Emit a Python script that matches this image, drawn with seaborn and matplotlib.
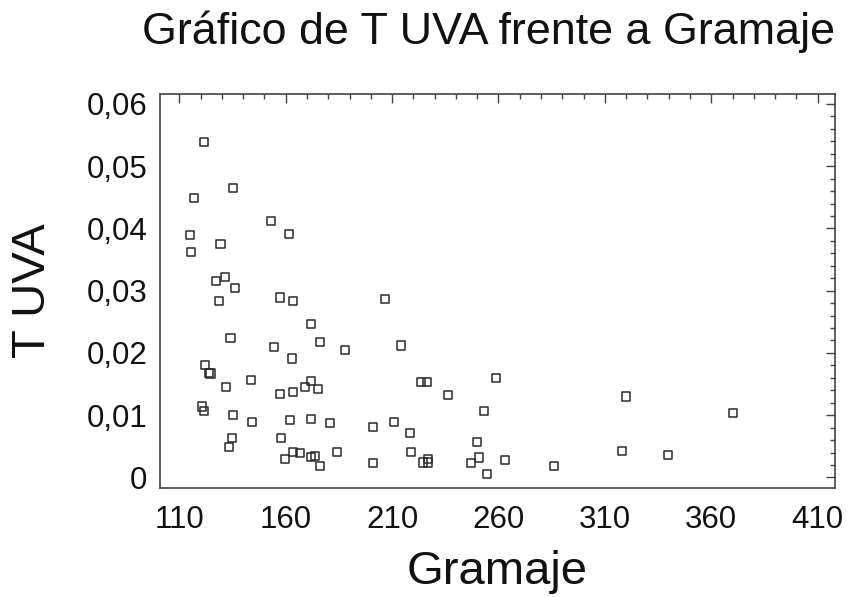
import matplotlib
matplotlib.use("Agg")
import matplotlib.pyplot as plt
from matplotlib.ticker import MultipleLocator, FuncFormatter
import pandas as pd
import seaborn as sns

# Gramaje (g/m2) and UVA transmittance per sample
gramaje = [
    121.6, 116.9, 135.2, 152.9, 161.4, 114.9, 115.6, 129.3, 127.4, 131.6,
    136.3, 128.7, 157.2, 163.6, 171.7, 176.0, 134.0, 154.6, 162.8, 188.0,
    122.2, 124.0, 124.6, 143.6, 132.1, 157.2, 163.6, 169.1, 171.9, 175.2,
    120.5, 121.5, 135.2, 144.2, 161.9, 171.9, 180.8, 157.8, 134.6, 133.5,
    159.5, 163.3, 166.7, 171.7, 173.9, 176.1, 184.0, 206.5, 214.2, 223.6,
    226.3, 258.8, 236.1, 253.3, 201.0, 210.8, 218.3, 249.9, 219.0, 201.0,
    224.7, 226.7, 226.7, 246.9, 250.7, 254.7, 262.9, 286.2, 320.1, 318.2,
    339.7, 370.3,
]
t_uva = [
    0.0539, 0.0449, 0.0465, 0.0412, 0.0391, 0.0389, 0.0362, 0.0375, 0.0316, 0.0322,
    0.0305, 0.0283, 0.0289, 0.0283, 0.0247, 0.0218, 0.0224, 0.0210, 0.0191, 0.0204,
    0.0181, 0.0168, 0.0167, 0.0156, 0.0145, 0.0134, 0.0137, 0.0145, 0.0155, 0.0142,
    0.0114, 0.0106, 0.0100, 0.0089, 0.0092, 0.0094, 0.0087, 0.0063, 0.0063, 0.0049,
    0.0030, 0.0041, 0.0039, 0.0033, 0.0034, 0.0019, 0.0041, 0.0287, 0.0212, 0.0153,
    0.0154, 0.0159, 0.0132, 0.0106, 0.0081, 0.0089, 0.0071, 0.0057, 0.0041, 0.0023,
    0.0024, 0.0029, 0.0024, 0.0023, 0.0032, 0.0006, 0.0028, 0.0018, 0.0130, 0.0043,
    0.0036, 0.0103,
]

df = pd.DataFrame({"Gramaje": gramaje, "T UVA": t_uva})

sns.set_style("white")
plt.rcParams["font.family"] = ["Liberation Sans", "DejaVu Sans"]

fig = plt.figure(figsize=(8.54, 5.97), dpi=100)
ax = fig.add_axes([0.1874, 0.1826, 0.7904, 0.6599])

sns.scatterplot(
    data=df, x="Gramaje", y="T UVA", ax=ax,
    marker="s", s=34, facecolor="none", edgecolor="#2a2a2a", linewidth=1.1,
)

ax.set_xlim(100.9, 418.2)
ax.set_ylim(-0.0017, 0.0616)
ax.xaxis.set_major_locator(MultipleLocator(50))
ax.xaxis.set_minor_locator(MultipleLocator(10))
ax.yaxis.set_major_locator(MultipleLocator(0.01))
ax.yaxis.set_minor_locator(MultipleLocator(0.002))
ax.set_xticks([110, 160, 210, 260, 310, 360, 410])

def comma_fmt(v, pos):
    if abs(v) < 1e-9:
        return "0"
    return f"{v:.2f}".replace(".", ",")

ax.yaxis.set_major_formatter(FuncFormatter(comma_fmt))

for side in ["left", "right", "top", "bottom"]:
    ax.spines[side].set_visible(True)
    ax.spines[side].set_color("#444444")
    ax.spines[side].set_linewidth(1.2)

ax.tick_params(which="both", direction="in", top=True, right=True,
               color="#444444", width=1.0, labelsize=22.5, labelcolor="#111111")
ax.tick_params(which="major", length=6.5)
ax.tick_params(axis="y", which="major", pad=9)
ax.tick_params(axis="x", which="major", pad=12)
ax.tick_params(which="minor", length=3.5)

ax.set_xlabel("Gramaje", fontsize=34, color="#111111", labelpad=11)
ax.set_ylabel("T UVA", fontsize=34, color="#111111", labelpad=23)
ax.set_title("Gráfico de T UVA frente a Gramaje", fontsize=32.3, color="#111111",
             pad=36, x=0.487)

fig.savefig("out.png", dpi=100)
